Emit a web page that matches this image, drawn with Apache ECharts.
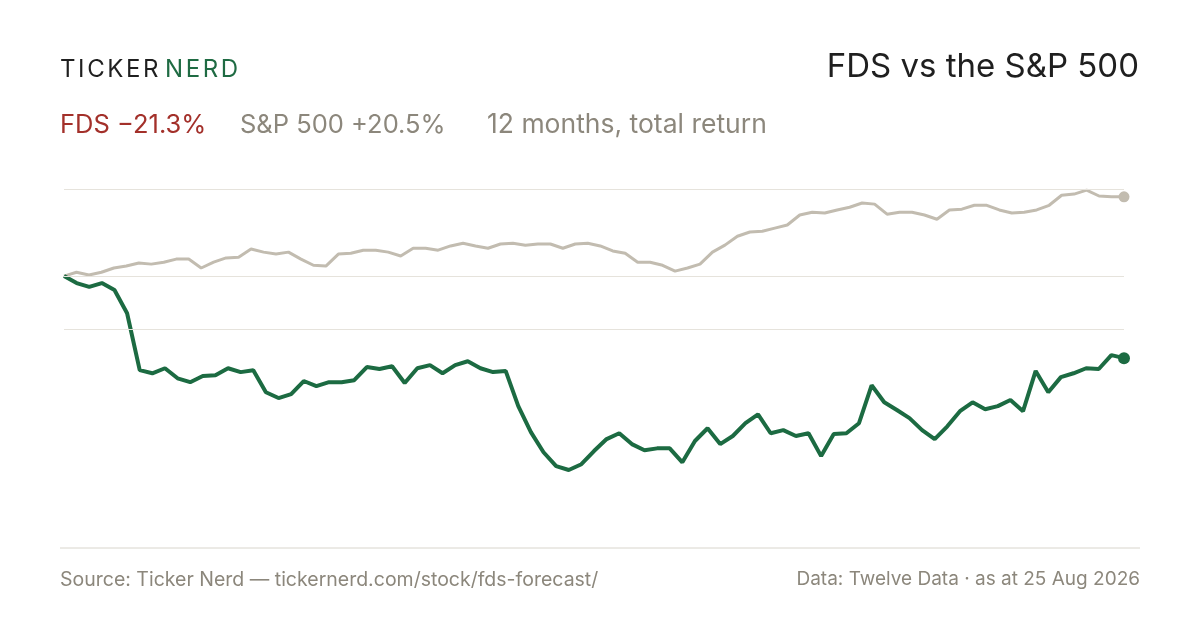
<!DOCTYPE html>
<html>
<head>
<meta charset="utf-8">
<script src="https://cdn.jsdelivr.net/npm/echarts@6/dist/echarts.min.js"></script>
<style>html,body{margin:0;background:#fff}#chart{width:1200px;height:630px}</style>
</head>
<body>
<div id="chart"></div>
<script>
var myChart = echarts.init(document.getElementById('chart'));

// 12 months total return, % from start
var dataObj = {
    fds: [0, -1.8, -2.8, -1.8, -3.6, -9.6, -24.3, -25.1, -23.8, -26.4, -27.4, -25.8, -25.6, -23.8, -24.8, -24.3,
        -30.0, -31.5, -30.5, -27.1, -28.4, -27.4, -27.4, -26.9, -23.5, -24.0, -23.3, -27.6, -23.8, -23.0, -25.1,
        -23.0, -22.0, -23.8, -24.8, -24.5, -33.6, -40.3, -45.5, -49.1, -50.1, -48.6, -45.2, -42.1, -40.6, -43.4,
        -45.0, -44.5, -44.5, -48.1, -42.6, -39.3, -43.4, -41.3, -38.0, -35.7, -40.6, -39.8, -41.3, -40.6, -46.5,
        -40.8, -40.6, -38.0, -28.2, -32.6, -34.6, -36.7, -39.8, -42.1, -38.8, -34.9, -32.6, -34.4, -33.6, -32.0,
        -34.9, -24.5, -30.0, -26.1, -25.1, -23.8, -24.0, -20.4, -21.2],
    spx: [0, 1.0, 0.3, 1.0, 2.1, 2.6, 3.4, 3.1, 3.6, 4.4, 4.4, 2.1, 3.6, 4.7, 4.9, 7.0, 6.2, 5.7, 6.2, 4.4,
        2.8, 2.6, 5.7, 5.9, 6.7, 6.7, 6.2, 5.2, 7.2, 7.2, 6.7, 7.8, 8.5, 7.8, 7.2, 8.3, 8.5, 8.0, 8.3, 8.3,
        7.2, 8.3, 8.5, 7.8, 6.5, 5.9, 3.6, 3.6, 2.8, 1.3, 2.1, 3.1, 6.2, 8.0, 10.3, 11.4, 11.6, 12.4, 13.2,
        15.8, 16.5, 16.3, 17.1, 17.8, 18.9, 18.6, 16.0, 16.5, 16.5, 15.8, 14.7, 17.1, 17.3, 18.3, 18.3, 17.1,
        16.3, 16.5, 17.1, 18.3, 20.9, 21.2, 22.2, 20.7, 20.5, 20.5]
};

function idx(arr) { return arr.map(function (v, i) { return i; }); }

// spaced-out logo letters
var ctx = document.createElement('canvas').getContext('2d');
ctx.font = '24px Inter';
var logo = [], lx = 60;
'TICKERNERD'.split('').forEach(function (ch, i) {
    if (i === 6) lx += 4;
    logo.push({
        type: 'text', left: lx, top: 58,
        style: { text: ch, font: '24px Inter', fill: i > 5 ? '#1f6b43' : '#1f1f1f' }
    });
    lx += ctx.measureText(ch).width + 2.6;
});

var option = {
    animation: false,
    grid: { left: 64, right: 76, top: 160, height: 329 },
    xAxis: [
        { type: 'category', data: idx(dataObj.fds), show: false, boundaryGap: false },
        { type: 'category', data: idx(dataObj.spx), show: false, boundaryGap: false }
    ],
    yAxis: { type: 'value', min: -55, max: 30, show: false, splitLine: { show: false } },
    graphic: logo.concat([
        { type: 'text', right: 61, top: 51, style: { text: 'FDS vs the S&P 500', font: '33px Inter', fill: '#1f1f1f' } },
        { type: 'text', left: 60, top: 112, style: { text: 'FDS −21.3%', font: '25.5px Inter', fill: '#a3302a' } },
        { type: 'text', left: 240, top: 112, style: { text: 'S&P 500 +20.5%', font: '25.5px Inter', fill: '#8c877c' } },
        { type: 'text', left: 487, top: 112, style: { text: '12 months, total return', font: '26.5px Inter', fill: '#8c877c' } },
        { type: 'line', shape: { x1: 60, y1: 548, x2: 1140, y2: 548 }, style: { stroke: '#d8d5cc', lineWidth: 1 } },
        { type: 'text', left: 60, top: 570, style: { text: 'Source: Ticker Nerd — tickernerd.com/stock/fds-forecast/', font: '19.5px Inter', fill: '#8c877c' } },
        { type: 'text', right: 60, top: 570, style: { text: 'Data: Twelve Data · as at 25 Aug 2026', font: '19px Inter', fill: '#8c877c' } }
    ]),
    series: [
        {
            name: 'S&P 500',
            type: 'line',
            xAxisIndex: 1,
            data: dataObj.spx,
            symbol: 'none',
            lineStyle: { color: '#c2bcb0', width: 3 },
            markLine: {
                silent: true, symbol: 'none', label: { show: false },
                lineStyle: { color: '#e6e3dc', width: 1, type: 'solid' },
                data: [{ yAxis: 22.4 }, { yAxis: 0 }, { yAxis: -13.7 }]
            },
            markPoint: {
                symbol: 'circle', symbolSize: 11, label: { show: false },
                itemStyle: { color: '#c2bcb0' },
                data: [{ coord: [dataObj.spx.length - 1, dataObj.spx[dataObj.spx.length - 1]] }]
            },
            z: 2
        },
        {
            name: 'FDS',
            type: 'line',
            data: dataObj.fds,
            symbol: 'none',
            lineStyle: { color: '#1c6b42', width: 4 },
            markPoint: {
                symbol: 'circle', symbolSize: 12, label: { show: false },
                itemStyle: { color: '#1c6b42' },
                data: [{ coord: [dataObj.fds.length - 1, dataObj.fds[dataObj.fds.length - 1]] }]
            },
            z: 3
        }
    ]
};
myChart.setOption(option);
window.addEventListener("resize", function () {
    myChart.resize();
});
</script>
</body>
</html>
